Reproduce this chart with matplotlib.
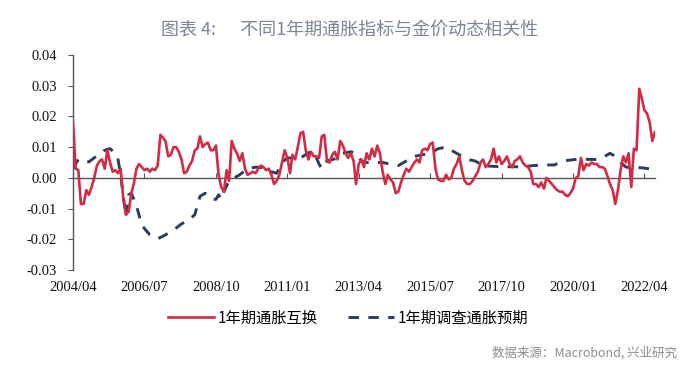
import matplotlib
matplotlib.use('Agg')
import matplotlib.pyplot as plt
import pandas as pd
import numpy as np

plt.rcParams['font.family'] = ['Noto Sans CJK SC', 'DejaVu Sans']

# 1-year inflation swap, monthly from 2004/04, in units of 0.01
swap_1y = [
    1.8, 0.3, 0.25, -0.85, -0.85, -0.4, -0.55, -0.3, 0.0, 0.4, 0.55, 0.6,
    0.3, 0.9, 0.5, 0.2, 0.25, 0.15, 0.3, -0.7, -1.2, -1.1, -0.5, -0.2,
    0.3, 0.45, 0.35, 0.25, 0.3, 0.2, 0.3, 0.25, 0.4, 1.4, 1.3, 1.2,
    0.7, 0.75, 1.0, 1.0, 0.85, 0.6, 0.15, 0.2, 0.4, 0.55, 0.9, 0.95,
    1.35, 1.0, 1.1, 1.15, 0.9, 0.9, 1.05, 0.1, -0.3, -0.45, 0.25, -0.1,
    1.2, 0.95, 0.8, 0.55, 0.8, 0.3, 0.1, 0.15, 0.2, 0.15, 0.3, 0.4,
    0.35, 0.25, 0.3, 0.1, -0.2, -0.1, 0.1, 0.5, 0.9, 0.65, 0.15, 0.75,
    0.6, 1.0, 1.45, 1.5, 0.9, 0.6, 0.85, 0.7, 0.7, 0.65, 1.35, 1.4,
    0.55, 0.5, 0.75, 0.85, 0.6, 1.2, 1.05, 0.8, 0.65, 0.8, 0.55, -0.2,
    0.45, 0.6, 0.35, 0.8, 0.6, 0.95, 0.7, 1.05, 0.8, 0.2, -0.2, 0.1,
    -0.05, -0.15, -0.5, -0.45, -0.15, 0.1, 0.3, 0.2, 0.35, 0.5, 0.6, 0.5,
    0.9, 0.95, 0.9, 1.1, 1.15, 0.3, -0.05, -0.1, -0.1, 0.1, -0.05, 0.0,
    0.3, 0.45, 0.7, 0.25, -0.1, -0.2, -0.2, -0.1, 0.05, 0.2, 0.5, 0.6,
    0.35, 0.45, 0.6, 0.95, 0.5, 0.7, 0.45, 0.55, 0.7, 0.45, 0.35, 0.55,
    0.6, 0.7, 0.5, 0.4, 0.35, 0.2, -0.2, -0.2, -0.3, -0.15, -0.35, 0.0,
    -0.1, -0.2, -0.3, -0.4, -0.45, -0.45, -0.55, -0.6, -0.5, -0.35, 0.0, 0.05,
    0.65, 0.25, 0.45, 0.4, 0.5, 0.45, 0.45, 0.35, 0.35, 0.3, 0.05, -0.2,
    -0.4, -0.85, -0.4, 0.25, 0.7, 0.5, 0.8, -0.3, 0.95, 0.9, 2.9, 2.6,
    2.2, 2.1, 1.8, 1.2, 1.5,
]

# 1-year survey inflation expectation: months after 2004/04, value in 0.01
survey_month = [0, 2, 6, 9, 12, 14, 16, 17, 18, 19, 20, 21, 22, 24, 26, 29,
                32, 34, 38, 41, 44, 46, 48, 50, 53, 54, 55, 56, 57, 59, 61,
                63, 66, 69, 72, 75, 77, 79, 81, 84, 87, 89, 91, 93, 94, 96,
                99, 102, 105, 107, 109, 111, 114, 117, 120, 123, 126, 129,
                132, 135, 138, 141, 144, 146, 149, 152, 155, 158, 162, 166,
                170, 174, 178, 182, 185, 188, 192, 195, 198, 201, 203, 205,
                207, 209, 212, 215, 219]
survey_1y = [0.3, 0.6, 0.52, 0.72, 0.9, 0.95, 0.8, 0.6, 0.1, -0.6, -1.25,
             -0.55, -0.5, -0.9, -1.55, -1.85, -1.98, -1.9, -1.7, -1.5,
             -1.35, -1.2, -0.6, -0.5, -0.7, -0.7, -0.55, -0.7, -0.45, -0.1,
             0.0, 0.1, 0.3, 0.35, 0.33, 0.2, 0.15, 0.5, 0.65, 0.65, 0.7,
             0.82, 0.85, 0.45, 0.3, 0.55, 0.62, 0.8, 0.85, 0.8, 0.55, 0.5,
             0.5, 0.5, 0.45, 0.4, 0.55, 0.7, 0.75, 0.8, 0.95, 1.0, 0.85,
             0.75, 0.6, 0.55, 0.4, 0.38, 0.36, 0.36, 0.36, 0.4, 0.42, 0.42,
             0.55, 0.58, 0.62, 0.6, 0.6, 0.7, 0.8, 0.7, 0.5, 0.35, 0.33,
             0.33, 0.28]

tick_labels = ['2004/04', '2006/07', '2008/10', '2011/01', '2013/04',
               '2015/07', '2017/10', '2020/01', '2022/04']
y_ticks = [0.04, 0.03, 0.02, 0.01, 0.00, -0.01, -0.02, -0.03]

start = pd.Timestamp('2004-04-01')
swap_dates = pd.date_range(start, periods=len(swap_1y), freq='MS')
survey_dates = [start + pd.DateOffset(months=m) for m in survey_month]
tick_dates = [pd.Timestamp(t.replace('/', '-') + '-01') for t in tick_labels]

fig = plt.figure(figsize=(7, 3.68), dpi=100)
ax = fig.add_axes([0.1043, 0.2663, 0.8314, 0.5842])

red = '#D12B45'
navy = '#2C3D5A'
ax.plot(swap_dates, np.array(swap_1y) / 100, color=red, lw=1.9,
        label='1年期通胀互换', zorder=3)
ax.plot(survey_dates, np.array(survey_1y) / 100, color=navy, lw=2.1,
        dashes=(3.6, 3.2), label='1年期调查通胀预期', zorder=2)

ax.set_ylim(-0.03, 0.04)
ax.set_xlim(swap_dates[0], swap_dates[-1])
ax.set_yticks(y_ticks)
ax.set_yticklabels(['%.2f' % v for v in y_ticks])
ax.set_xticks(tick_dates)
ax.set_xticklabels(tick_labels)

for s in ['top', 'right']:
    ax.spines[s].set_visible(False)
ax.spines['bottom'].set_position(('data', 0))
for s in ['left', 'bottom']:
    ax.spines[s].set_color('#555555')
    ax.spines[s].set_linewidth(1.0)
ax.tick_params(axis='both', labelfontfamily='Liberation Serif',
               labelsize=10.5, labelcolor='#111111', color='#555555')
ax.tick_params(axis='y', direction='out', length=3.6, pad=8)
ax.tick_params(axis='x', direction='in', length=3.6, pad=74)

fig.text(0.5, 0.918, '图表 4:      不同1年期通胀指标与金价动态相关性',
         ha='center', va='center', fontsize=13, color='#7D8696')

leg = fig.legend(loc='center', bbox_to_anchor=(0.497, 0.136), ncol=2,
                 frameon=False, fontsize=11, handlelength=3.0,
                 handletextpad=0.25, columnspacing=2.0)

fig.text(0.967, 0.041, '数据来源：Macrobond, 兴业研究', ha='right',
         va='center', fontsize=9, color='#8C8C8C')

fig.savefig('out.png', dpi=100)
